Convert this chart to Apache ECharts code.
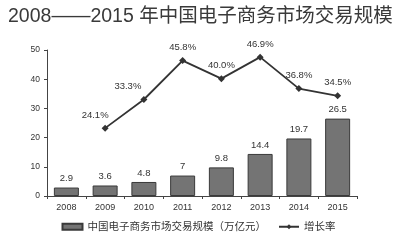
<!DOCTYPE html>
<html><head><meta charset="utf-8">
<script src="https://cdn.jsdelivr.net/npm/echarts@6/dist/echarts.min.js"></script>
<style>html,body{margin:0;padding:0;background:#fff}#c{width:397px;height:240px}</style>
</head><body><div id="c"></div>
<script>
var categories = ['2008','2009','2010','2011','2012','2013','2014','2015'];
var scaleValues = [2.9, 3.6, 4.8, 7, 9.8, 14.4, 19.7, 26.5];
var growthValues = [null, 24.1, 33.3, 45.8, 40.0, 46.9, 36.8, 34.5];
var yTicks = [0, 10, 20, 30, 40, 50];
var barName = '中国电子商务市场交易规模（万亿元）';
var lineName = '增长率';
var titleText = '2008——2015 年中国电子商务市场交易规模';

var font = '"Liberation Sans","Noto Sans CJK SC",sans-serif';
var chart = echarts.init(document.getElementById('c'));
var lineData = growthValues.map(function(v, i){
  var d = {value: v};
  if (i === 1) d.label = {offset: [-10, 0]};
  if (i === 2) d.label = {offset: [-16, 0]};
  return d;
});
chart.setOption({
  backgroundColor: '#ffffff',
  animation: false,
  title: {text: titleText, left: 3, top: 2,
    textStyle: {fontSize: 19.5, fontWeight: 'normal', color: '#3a3a3a', fontFamily: font}},
  legend: {bottom: 3, left: 'center', itemWidth: 20, itemHeight: 6, itemGap: 12,
    textStyle: {fontSize: 10.5, color: '#333', fontFamily: font},
    data: [{name: barName, icon: 'rect'}, {name: lineName}]},
  grid: {left: 47, right: 40, top: 50, bottom: 44},
  xAxis: {type: 'category', data: categories,
    axisLine: {lineStyle: {color: '#444', width: 1}},
    axisTick: {show: true, length: 3, lineStyle: {color: '#444'}},
    axisLabel: {fontSize: 9, color: '#333', margin: 7, fontFamily: font}},
  yAxis: [{type: 'value', min: yTicks[0], max: yTicks[yTicks.length-1], interval: 10,
    axisLine: {show: true, lineStyle: {color: '#444'}},
    axisTick: {show: true, length: 3, lineStyle: {color: '#444'}},
    splitLine: {show: false},
    axisLabel: {fontSize: 8.5, color: '#333', margin: 7, fontFamily: font}},
    {type: 'value', min: 2.3, max: 49.2, show: false, splitLine: {show: false}}],
  series: [{name: barName, type: 'bar', data: scaleValues, barWidth: 25,
    itemStyle: {color: '#747474', borderColor: '#3a3a3a', borderWidth: 1},
    label: {show: true, position: 'top', distance: 4, fontSize: 9.5, color: '#333', fontFamily: font}},
   {name: lineName, type: 'line', yAxisIndex: 1, data: lineData, connectNulls: false,
    symbol: 'diamond', symbolSize: 7,
    lineStyle: {color: '#333', width: 1.8}, itemStyle: {color: '#333'},
    label: {show: true, position: 'top', distance: 5, fontSize: 9.5, color: '#333', fontFamily: font,
      formatter: function(p){ return p.value == null ? '' : p.value.toFixed(1) + '%'; }}}]
});
</script></body></html>
